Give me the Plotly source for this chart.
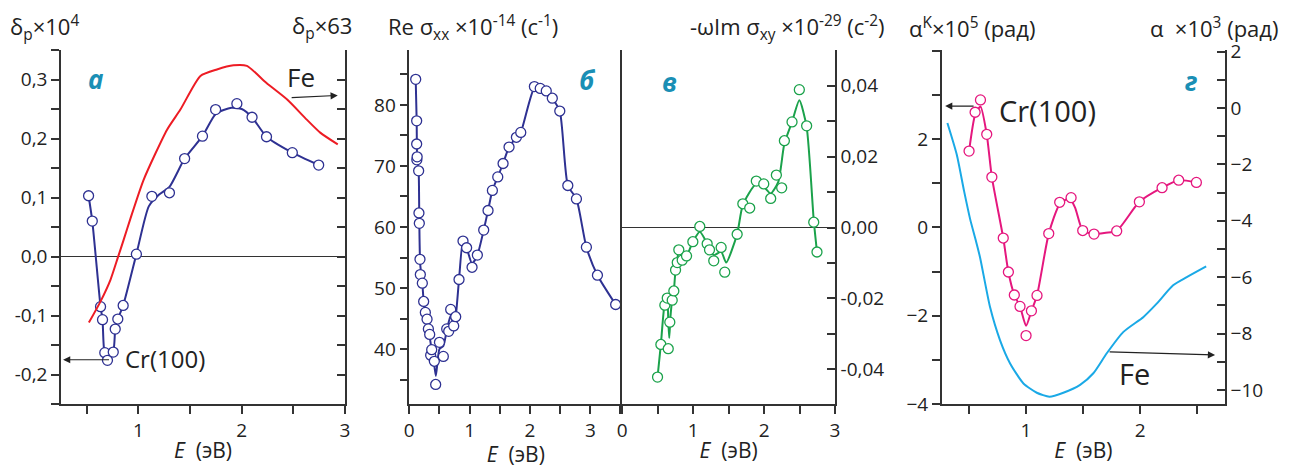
import plotly.graph_objects as go

W, H = 1289, 468

# ---- panel а : delta_p ----
a_cr_e = [0.517, 0.553, 0.633, 0.652, 0.674, 0.70, 0.756, 0.775, 0.80, 0.852, 0.98,
          1.13, 1.30, 1.447, 1.62, 1.747, 1.953, 2.10, 2.24, 2.49, 2.745]
a_cr_d = [0.103, 0.060, -0.085, -0.107, -0.163, -0.176, -0.162, -0.123, -0.106, -0.083, 0.004,
          0.102, 0.108, 0.166, 0.204, 0.249, 0.259, 0.236, 0.203, 0.176, 0.155]
a_fit_e = [0.517, 0.553, 0.633, 0.652, 0.67, 0.70, 0.756, 0.775, 0.80, 0.852, 0.98,
           1.10, 1.20, 1.30, 1.447, 1.62, 1.75, 1.90, 2.0, 2.10, 2.24, 2.49, 2.745]
a_fit_d = [0.103, 0.060, -0.085, -0.107, -0.160, -0.168, -0.160, -0.123, -0.106, -0.083, 0.004,
           0.085, 0.105, 0.118, 0.166, 0.204, 0.242, 0.252, 0.250, 0.236, 0.203, 0.176, 0.155]
a_fe_e = [0.52, 0.633, 0.73, 0.80, 0.858, 0.92, 1.05, 1.277, 1.406, 1.60, 1.76, 1.92,
          2.05, 2.24, 2.44, 2.63, 2.76, 2.93]
a_fe_d = [-0.112, -0.076, -0.039, -0.002, 0.029, 0.063, 0.13, 0.215, 0.249, 0.306, 0.317, 0.324,
          0.323, 0.294, 0.266, 0.232, 0.21, 0.19]

# ---- panel б : Re sigma_xx ----
b_e = [0.106, 0.122, 0.122, 0.125, 0.13, 0.155, 0.16, 0.166, 0.177, 0.183, 0.216, 0.238,
       0.266, 0.294, 0.316, 0.338, 0.354, 0.371, 0.415, 0.437, 0.50, 0.564, 0.62, 0.653,
       0.686, 0.736, 0.769, 0.824, 0.89, 0.95, 1.04, 1.128, 1.233, 1.305, 1.377, 1.466,
       1.554, 1.653, 1.775, 1.847, 2.073, 2.17, 2.27, 2.37, 2.494, 2.627, 2.77, 2.935,
       3.118, 3.42]
b_s = [84.2, 77.4, 73.6, 71.0, 71.5, 69.2, 62.3, 60.6, 54.7, 52.2, 50.8, 47.8,
       46.0, 44.9, 43.3, 42.4, 39.0, 39.9, 38.0, 34.2, 41.1, 38.8, 43.3, 42.9,
       46.5, 43.8, 45.3, 51.4, 57.7, 56.6, 53.4, 55.4, 59.5, 62.7, 66.0, 68.2,
       70.4, 73.1, 74.7, 75.5, 83.0, 82.7, 82.3, 81.1, 79.0, 66.8, 64.6, 56.7,
       52.1, 47.3]
b_fit_e = [0.106, 0.122, 0.13, 0.155, 0.166, 0.18, 0.216, 0.238, 0.266, 0.294, 0.338,
           0.371, 0.40, 0.44, 0.50, 0.564, 0.62, 0.686, 0.736, 0.769, 0.824, 0.89, 0.95,
           1.04, 1.128, 1.233, 1.305, 1.377, 1.466, 1.554, 1.653, 1.775, 1.847, 2.073,
           2.17, 2.27, 2.37, 2.494, 2.627, 2.77, 2.935, 3.118, 3.42]
b_fit_s = [84.2, 77.4, 71.4, 69.2, 60.6, 54.0, 50.8, 47.8, 46.0, 44.5, 42.0,
           39.9, 38.5, 35.6, 40.0, 40.5, 43.0, 45.5, 44.0, 45.3, 51.4, 57.7, 56.6,
           54.0, 55.4, 59.5, 62.7, 66.0, 68.2, 70.4, 73.1, 74.7, 75.5, 82.8,
           82.7, 82.3, 81.1, 79.0, 66.8, 64.6, 56.7, 52.1, 47.3]

# ---- panel в : -omega Im sigma_xy ----
c_e = [0.497, 0.544, 0.60, 0.634, 0.648, 0.67, 0.704, 0.727, 0.751, 0.775, 0.797, 0.845,
       0.906, 0.995, 1.093, 1.197, 1.23, 1.29, 1.394, 1.445, 1.62, 1.70, 1.797, 1.89,
       1.995, 2.093, 2.173, 2.248, 2.286, 2.394, 2.497, 2.60, 2.70, 2.746]
c_s = [-0.0422, -0.0330, -0.0219, -0.0199, -0.0342, -0.0267, -0.0205, -0.0179, -0.0120,
       -0.0099, -0.0063, -0.0092, -0.0080, -0.0040, 0.0003, -0.0046, -0.0063, -0.0094,
       -0.0056, -0.0126, -0.0019, 0.0067, 0.0055, 0.0131, 0.0123, 0.0082, 0.0148, 0.0112,
       0.0245, 0.0298, 0.0389, 0.0287, 0.0015, -0.0069]
c_fit_e = [0.497, 0.544, 0.60, 0.634, 0.648, 0.662, 0.68, 0.704, 0.727, 0.751, 0.797, 0.906,
           0.995, 1.093, 1.197, 1.29, 1.394, 1.465, 1.62, 1.70, 1.89, 1.995, 2.093, 2.20,
           2.286, 2.394, 2.497, 2.60, 2.70, 2.746]
c_fit_s = [-0.0422, -0.0330, -0.0214, -0.0204, -0.026, -0.0312, -0.025, -0.0204, -0.0179,
           -0.0120, -0.0073, -0.0078, -0.0040, -0.0012, -0.0045, -0.0078, -0.0068, -0.0099,
           -0.0018, 0.0064, 0.0124, 0.0115, 0.0096, 0.0129, 0.0237, 0.0298, 0.0359, 0.0284,
           0.0021, -0.0069]

# ---- panel г : Kerr rotation ----
d_cr_e = [0.50, 0.553, 0.60, 0.655, 0.70, 0.80, 0.845, 0.897, 0.947, 1.0, 1.047, 1.096,
          1.199, 1.295, 1.395, 1.497, 1.596, 1.795, 1.994, 2.193, 2.339, 2.494]
d_cr_a = [1.73, 2.61, 2.89, 2.11, 1.14, -0.24, -1.01, -1.53, -1.79, -2.45, -1.89, -1.54,
          -0.14, 0.57, 0.675, -0.07, -0.15, -0.08, 0.58, 0.90, 1.07, 1.02]
d_fit_e = [0.50, 0.553, 0.60, 0.655, 0.70, 0.80, 0.845, 0.897, 0.947, 1.0, 1.047, 1.096,
           1.199, 1.295, 1.38, 1.43, 1.497, 1.596, 1.70, 1.795, 1.994, 2.193, 2.339, 2.494]
d_fit_a = [1.73, 2.55, 2.74, 2.11, 1.14, -0.24, -1.01, -1.53, -1.79, -2.23, -1.89, -1.54,
           -0.14, 0.53, 0.66, 0.45, -0.07, -0.15, -0.12, -0.08, 0.58, 0.90, 1.07, 1.02]
d_fe_e = [0.31, 0.392, 0.456, 0.51, 0.56, 0.596, 0.684, 0.772, 0.86, 0.977, 1.094, 1.205,
          1.327, 1.474, 1.59, 1.708, 1.854, 2.03, 2.146, 2.29, 2.41, 2.58]
d_fe_a = [-0.53, -1.65, -2.94, -3.95, -4.71, -5.29, -7.06, -8.24, -9.06, -9.77, -10.1, -10.24,
          -10.1, -9.82, -9.41, -8.70, -7.94, -7.41, -6.94, -6.29, -6.0, -5.62]

# tick labels
a_yvals = [-0.2, -0.1, 0.0, 0.1, 0.2, 0.3]
a_ytext = ["-0,2", "-0,1", "0,0", "0,1", "0,2", "0,3"]
b_yvals = [40, 50, 60, 70, 80]
c_yvals = [-0.04, -0.02, 0.0, 0.02, 0.04]
c_ytext = ["-0,04", "-0,02", "0,00", "0,02", "0,04"]
d_yvals = [-4, -2, 0, 2]
d_y2vals = [-10, -8, -6, -4, -2, 0, 2]

NAVY = "#2e3192"
RED = "#ed1c24"
GREEN = "#1ba24b"
MAGENTA = "#e5177e"
CYAN = "#1aa9e6"
TEAL = "#1a8fb5"
AX = "#333333"
FONT = "Open Sans"


def px_x(a, b):
    return [a / W, b / W]


Y_DOM = [1 - 404 / H, 1 - 50 / H]


def line(x, y, color, xa, ya):
    return go.Scatter(x=x, y=y, mode="lines", xaxis=xa, yaxis=ya,
                      line=dict(color=color, width=2, shape="spline", smoothing=0.6),
                      hoverinfo="skip")


def dots(x, y, color, xa, ya):
    return go.Scatter(x=x, y=y, mode="markers", xaxis=xa, yaxis=ya,
                      marker=dict(size=10, color="white", line=dict(color=color, width=1.3)))


fig = go.Figure([
    line(a_fe_e, a_fe_d, RED, "x", "y2"),
    line(a_fit_e, a_fit_d, NAVY, "x", "y"),
    dots(a_cr_e, a_cr_d, NAVY, "x", "y"),
    line(b_fit_e, b_fit_s, NAVY, "x2", "y3"),
    dots(b_e, b_s, NAVY, "x2", "y3"),
    line(c_fit_e, c_fit_s, GREEN, "x3", "y4"),
    dots(c_e, c_s, GREEN, "x3", "y4"),
    line(d_fe_e, d_fe_a, CYAN, "x4", "y6"),
    line(d_fit_e, d_fit_a, MAGENTA, "x4", "y5"),
    dots(d_cr_e, d_cr_a, MAGENTA, "x4", "y5"),
])

tickfont = dict(family=FONT, size=19, color="#222")
common = dict(showline=True, linecolor=AX, linewidth=1.5, showgrid=False, zeroline=False,
              ticklen=8, tickwidth=1.5, tickcolor=AX, tickfont=tickfont, automargin=False)
xtitle = dict(text="<i>E</i>\u00a0\u00a0(эВ)", font=dict(family=FONT, size=21, color="#222"),
              standoff=2)


def minor(dtick, side="outside"):
    return dict(ticks=side, tickmode="linear", tick0=0, dtick=dtick, ticklen=8,
                tickwidth=1.5, tickcolor=AX)


fig.update_layout(
    width=W, height=H, margin=dict(l=0, r=0, t=0, b=0),
    paper_bgcolor="white", plot_bgcolor="white", showlegend=False,
    xaxis=dict(domain=px_x(61, 345), range=[0.25, 3], anchor="y", ticks="outside",
               tickvals=[1, 2, 3], minor=minor(0.5), title=xtitle, **common),
    yaxis=dict(domain=Y_DOM, range=[-0.25, 0.35], anchor="x", ticks="outside",
               tickvals=a_yvals, ticktext=a_ytext, minor=minor(0.05), **common),
    yaxis2=dict(overlaying="y", anchor="x", side="right", range=[-0.25, 0.35], ticks="inside",
                tickvals=a_yvals, showticklabels=False, minor=minor(0.05, "inside"), **common),
    xaxis2=dict(domain=px_x(409.3, 622.3), range=[0, 3.53], anchor="y3", ticks="outside",
                tickvals=[0, 1, 2, 3], minor=minor(0.5), title=xtitle, **common),
    yaxis3=dict(domain=Y_DOM, range=[31, 89], anchor="x2", ticks="outside",
                tickvals=b_yvals, minor=minor(5), **common),
    xaxis3=dict(domain=px_x(622.3, 835), range=[0, 3], anchor="y4", ticks="outside",
                tickvals=[0, 1, 2, 3], minor=minor(0.5), title=xtitle, **common),
    yaxis4=dict(domain=Y_DOM, range=[-0.0498, 0.0501], anchor="x3", side="right",
                ticks="inside", mirror=True, tickvals=c_yvals, ticktext=c_ytext,
                minor=minor(0.01, "inside"), **common),
    xaxis4=dict(domain=px_x(941.7, 1225), range=[0.26, 2.745], anchor="y5", ticks="outside",
                tickvals=[1, 2], minor=minor(0.5), title=xtitle, **common),
    yaxis5=dict(domain=Y_DOM, range=[-4, 4.02], anchor="x4", ticks="outside",
                tickvals=d_yvals, minor=minor(1), **common),
    yaxis6=dict(overlaying="y5", anchor="x4", side="right", range=[-10.5, 2.06],
                ticks="inside", tickvals=d_y2vals, minor=minor(1, "inside"), **common),
)

# zero lines in panels а and в
fig.update_layout(yaxis_zeroline=True, yaxis_zerolinecolor=AX, yaxis_zerolinewidth=1.3,
                  yaxis4_zeroline=True, yaxis4_zerolinecolor=AX, yaxis4_zerolinewidth=1.3)

tfont = dict(family=FONT, size=22, color="#222")


def head(text, xpx, anchor):
    fig.add_annotation(text=text, x=xpx / W, y=1 - 27 / H, xref="paper", yref="paper",
                       xanchor=anchor, yanchor="middle", showarrow=False, font=tfont)


head("δ<sub>p</sub>×10<sup>4</sup>", 8, "left")
head("δ<sub>p</sub>×63", 354, "right")
head("Re σ<sub>xx</sub> ×10<sup>-14</sup> (с<sup>-1</sup>)", 386, "left")
head("-ωIm σ<sub>xy</sub> ×10<sup>-29</sup> (с<sup>-2</sup>)", 887, "right")
head("α<sup>K</sup>×10<sup>5</sup> (рад)", 907, "left")
head("α \u00a0×10<sup>3</sup> (рад)", 1280, "right")


def panel_label(text, x, y, xr, yr):
    fig.add_annotation(text="<b><i>" + text + "</i></b>", x=x, y=y, xref=xr, yref=yr,
                       showarrow=False, font=dict(family=FONT, size=26, color=TEAL))


panel_label("а", 0.585, 0.30, "x", "y")
panel_label("б", 2.96, 84.1, "x2", "y3")
panel_label("в", 0.666, 0.041, "x3", "y4")
panel_label("г", 2.447, 3.32, "x4", "y5")


def label(text, x, y, xr, yr, size):
    fig.add_annotation(text=text, x=x, y=y, xref=xr, yref=yr, xanchor="left",
                       showarrow=False, font=dict(family=FONT, size=size, color="#222"))


def arrow(x0, y0, x1, y1, xr, yr):
    fig.add_annotation(x=x1, y=y1, ax=x0, ay=y0, xref=xr, yref=yr, axref=xr, ayref=yr,
                       text="", showarrow=True, arrowhead=2, arrowsize=1.2, arrowwidth=1.2,
                       arrowcolor="#222")


label("Fe", 2.42, 0.305, "x", "y", 26)
arrow(2.469, 0.269, 2.93, 0.273, "x", "y")
label("Cr(100)", 0.855, -0.173, "x", "y", 24)
arrow(0.73, -0.175, 0.27, -0.175, "x", "y")

label("Cr(100)", 0.746, 2.64, "x4", "y5", 29)
arrow(0.553, 2.75, 0.29, 2.75, "x4", "y5")
label("Fe", 1.80, -3.32, "x4", "y5", 29)
arrow(1.72, -2.82, 2.658, -2.89, "x4", "y5")

# the page body has a default margin; drop it so the figure sits at the window's corner
fig.write_html("out.html", config={"displayModeBar": False},
               post_script="document.body.style.margin='0';document.body.style.overflow='hidden';")
